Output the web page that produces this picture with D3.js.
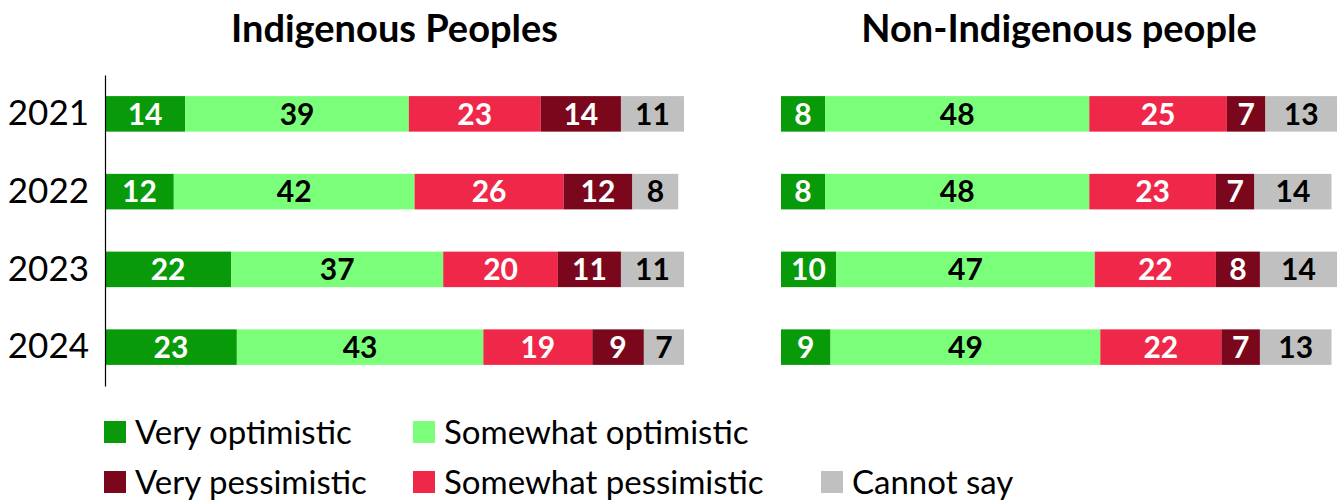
<!DOCTYPE html>
<html>
<head>
<meta charset="utf-8">
<script src="https://cdn.jsdelivr.net/npm/d3@7"></script>
<style>
  body { margin: 0; background: #fff; }
  svg { display: block; font-family: Lato, "Noto Sans", sans-serif; }
</style>
</head>
<body>
<div id="chart"></div>
<script>
const years = ["2021", "2022", "2023", "2024"];
const categories = ["Very optimistic", "Somewhat optimistic", "Somewhat pessimistic", "Very pessimistic", "Cannot say"];
const colors = ["#089a08", "#7bff7b", "#ef2849", "#7a071c", "#c0c0c0"];
const labelColors = ["#fff", "#000", "#fff", "#fff", "#000"];

// Indigenous Peoples, % per year
const indigVeryOpt = [14, 12, 22, 23];
const indigSomewhatOpt = [39, 42, 37, 43];
const indigSomewhatPess = [23, 26, 20, 19];
const indigVeryPess = [14, 12, 11, 9];
const indigCannotSay = [11, 8, 11, 7];

// Non-Indigenous people, % per year
const nonVeryOpt = [8, 8, 10, 9];
const nonSomewhatOpt = [48, 48, 47, 49];
const nonSomewhatPess = [25, 23, 22, 22];
const nonVeryPess = [7, 7, 8, 7];
const nonCannotSay = [13, 14, 14, 13];

const legendRows = [
  ["Very optimistic", "Somewhat optimistic"],
  ["Very pessimistic", "Somewhat pessimistic", "Cannot say"]
];

function toRows(series) {
  return years.map((y, i) => {
    let row = { year: y };
    categories.forEach((c, j) => row[c] = series[j][i]);
    return row;
  });
}

const panels = [
  { title: "Indigenous Peoples", rows: toRows([indigVeryOpt, indigSomewhatOpt, indigSomewhatPess, indigVeryPess, indigCannotSay]), range: [105, 684], axis: true },
  { title: "Non-Indigenous people", rows: toRows([nonVeryOpt, nonSomewhatOpt, nonSomewhatPess, nonVeryPess, nonCannotSay]), range: [781, 1337], axis: false }
];

const width = 1339, height = 501;

const svg = d3.select("#chart").append("svg")
  .attr("width", width)
  .attr("height", height);

const y = d3.scaleBand().domain(years).range([75, 386]).paddingInner(0.543).paddingOuter(0.2715);
const color = d3.scaleOrdinal().domain(categories).range(colors);
const labelColor = d3.scaleOrdinal().domain(categories).range(labelColors);
const stack = d3.stack().keys(categories);

panels.forEach(p => {
  let x = d3.scaleLinear().domain([0, 101]).range(p.range);
  let g = svg.append("g");

  g.append("text")
    .attr("x", (p.range[0] + p.range[1]) / 2)
    .attr("y", 42)
    .attr("text-anchor", "middle")
    .style("font-size", "38px")
    .style("font-weight", 700)
    .text(p.title);

  let layers = g.selectAll("g.layer")
    .data(stack(p.rows))
    .enter().append("g")
    .attr("class", "layer");

  layers.selectAll("rect")
    .data(d => d.map(v => ({ key: d.key, v: v })))
    .enter().append("rect")
    .attr("x", d => x(d.v[0]))
    .attr("y", d => y(d.v.data.year))
    .attr("width", d => x(d.v[1]) - x(d.v[0]))
    .attr("height", y.bandwidth())
    .attr("fill", d => color(d.key));

  layers.selectAll("text")
    .data(d => d.map(v => ({ key: d.key, v: v })))
    .enter().append("text")
    .attr("x", d => (x(d.v[0]) + x(d.v[1])) / 2)
    .attr("y", d => y(d.v.data.year) + y.bandwidth() / 2)
    .attr("dy", "0.36em")
    .attr("text-anchor", "middle")
    .style("font-size", "30px")
    .style("font-weight", 700)
    .attr("fill", d => labelColor(d.key))
    .text(d => d.v.data[d.key]);

  if (p.axis) {
    let axis = g.append("g")
      .attr("transform", "translate(" + p.range[0] + ",0)")
      .call(d3.axisLeft(y).tickSize(0).tickPadding(16));
    axis.select(".domain").attr("stroke", "#000").attr("stroke-width", 1.2);
    axis.selectAll(".tick text")
      .style("font-size", "35px")
      .style("font-family", "Lato, sans-serif")
      .attr("fill", "#000");
  }
});

// legend
const legendX = [104, 413, 821];
const legendY = [432, 482];
legendRows.forEach((row, r) => {
  row.forEach((name, c) => {
    let item = svg.append("g").attr("transform", "translate(" + legendX[c] + "," + legendY[r] + ")");
    item.append("rect")
      .attr("x", 0).attr("y", -11)
      .attr("width", 22).attr("height", 22)
      .attr("fill", color(name));
    item.append("text")
      .attr("x", 31).attr("y", 0)
      .attr("dy", "0.36em")
      .style("font-size", "33px")
      .attr("fill", "#000")
      .text(name);
  });
});
</script>
</body>
</html>
